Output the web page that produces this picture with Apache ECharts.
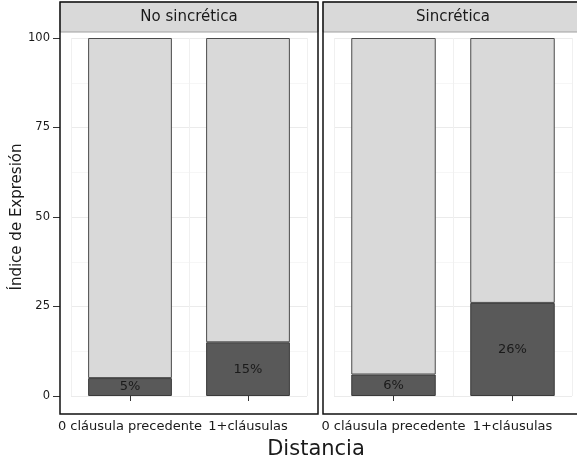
<!DOCTYPE html>
<html>
<head>
<meta charset="utf-8">
<script src="https://cdn.jsdelivr.net/npm/echarts@6/dist/echarts.min.js"></script>
<style>html,body{margin:0;padding:0;background:#fff}#c{width:577px;height:461px}</style>
</head>
<body>
<div id="c"></div>
<script>
var categories = ['0 cláusula precedente', '1+cláusulas'];
var panels = ['No sincrética', 'Sincrética'];
var expressedNoSinc = [5, 15];
var expressedSinc = [6, 26];
var restNoSinc = [95, 85];
var restSinc = [94, 74];
var yTicks = [0, 25, 50, 75, 100];

var FONT = '"DejaVu Sans", "Liberation Sans", Arial, sans-serif';
var chart = echarts.init(document.getElementById('c'), null, {renderer: 'canvas'});

function xAx(idx) {
  return {
    type: 'category', gridIndex: idx, data: categories, offset: 18,
    axisLine: {show: false},
    axisTick: {show: true, alignWithLabel: true, length: 5, lineStyle: {color: '#333', width: 1}},
    axisLabel: {color: '#1a1a1a', fontSize: 13, fontFamily: FONT, margin: 6, interval: 0},
    splitLine: {show: true, lineStyle: {color: '#f0f0f0', width: 1}}
  };
}
function yAx(idx, showLabels) {
  return {
    type: 'value', gridIndex: idx, min: 0, max: 100, interval: 25,
    offset: showLabels ? 11 : 0,
    axisLine: {show: false},
    axisTick: {show: showLabels, length: 7, lineStyle: {color: '#333', width: 1}},
    axisLabel: {show: showLabels, color: '#1a1a1a', fontSize: 11.5, fontFamily: FONT, margin: 10,
      formatter: function (v) { return yTicks.indexOf(v) >= 0 ? String(v) : ''; }},
    splitLine: {show: true, lineStyle: {color: '#ebebeb', width: 1}},
    minorTick: {show: false, splitNumber: 2},
    minorSplitLine: {show: true, lineStyle: {color: '#f6f6f6', width: 1}},
    name: showLabels ? 'Índice de Expresión' : '',
    nameLocation: 'middle', nameGap: 34, nameRotate: 90,
    nameTextStyle: {color: '#1a1a1a', fontSize: 15, fontFamily: FONT}
  };
}
function lbl(show) {
  return {show: show, position: 'inside', color: '#1a1a1a', fontSize: 13, fontFamily: FONT,
    formatter: function (p) { return p.value + '%'; }};
}
var barStyleDark = {color: '#595959', borderColor: '#3a3a3a', borderWidth: 1};
var barStyleLight = {color: '#d9d9d9', borderColor: '#4a4a4a', borderWidth: 1};

var option = {
  animation: false,
  backgroundColor: '#ffffff',
  grid: [
    {left: 71, top: 38, width: 236, height: 358},
    {left: 334, top: 38, width: 238, height: 358}
  ],
  xAxis: [xAx(0), xAx(1)],
  yAxis: [yAx(0, true), yAx(1, false)],
  series: [
    {type: 'bar', xAxisIndex: 0, yAxisIndex: 0, stack: 'a', data: expressedNoSinc, barWidth: '71%', itemStyle: barStyleDark, label: lbl(true)},
    {type: 'bar', xAxisIndex: 0, yAxisIndex: 0, stack: 'a', data: restNoSinc, barWidth: '71%', itemStyle: barStyleLight},
    {type: 'bar', xAxisIndex: 1, yAxisIndex: 1, stack: 'b', data: expressedSinc, barWidth: '71%', itemStyle: barStyleDark, label: lbl(true)},
    {type: 'bar', xAxisIndex: 1, yAxisIndex: 1, stack: 'b', data: restSinc, barWidth: '71%', itemStyle: barStyleLight}
  ],
  graphic: [
    {type: 'rect', shape: {x: 60, y: 2, width: 258, height: 30}, style: {fill: '#d9d9d9', stroke: '#a0a0a0', lineWidth: 1}, z: 50},
    {type: 'rect', shape: {x: 323, y: 2, width: 270, height: 30}, style: {fill: '#d9d9d9', stroke: '#a0a0a0', lineWidth: 1}, z: 50},
    {type: 'text', x: 189, y: 17, style: {text: panels[0], fill: '#1a1a1a', font: '15px ' + FONT, textAlign: 'center', textVerticalAlign: 'middle'}, z: 60},
    {type: 'text', x: 453, y: 17, style: {text: panels[1], fill: '#1a1a1a', font: '15px ' + FONT, textAlign: 'center', textVerticalAlign: 'middle'}, z: 60},
    {type: 'rect', shape: {x: 60, y: 2, width: 258, height: 412}, style: {fill: 'none', stroke: '#111', lineWidth: 1.5}, z: 100},
    {type: 'rect', shape: {x: 323, y: 2, width: 270, height: 412}, style: {fill: 'none', stroke: '#111', lineWidth: 1.5}, z: 100},
    {type: 'text', x: 316, y: 450, style: {text: 'Distancia', fill: '#1a1a1a', font: '21px ' + FONT, textAlign: 'center', textVerticalAlign: 'middle'}, z: 60}
  ]
};
chart.setOption(option);
</script>
</body>
</html>
